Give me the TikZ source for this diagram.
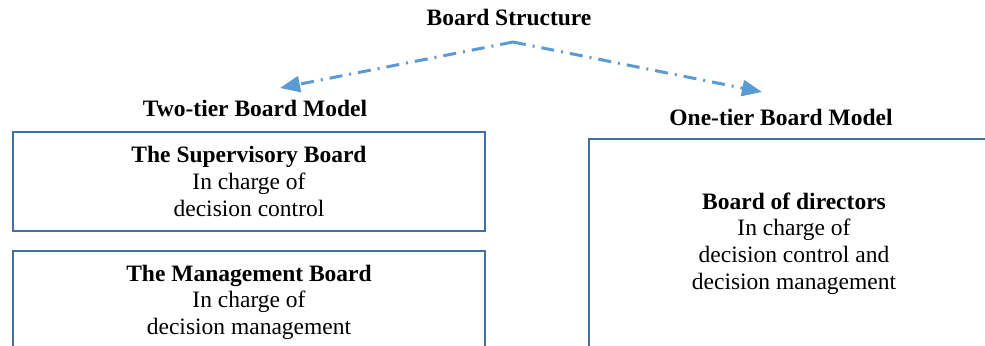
\documentclass[tikz,border=0pt]{standalone}
\usepackage{fontspec}
\setmainfont{Liberation Serif}
\usepackage{tikz}
\usetikzlibrary{arrows.meta,positioning,calc}
\definecolor{boxcolor}{RGB}{65,113,156}
\definecolor{linkcolor}{RGB}{91,155,213}

\begin{document}
\begin{tikzpicture}[x=0.5pt, y=-0.5pt,
    every node/.style={font=\fontsize{11.75}{13.3}\selectfont, inner sep=0pt},
    board/.style={draw=boxcolor, line width=1pt, align=center, anchor=north west},
    head/.style={font=\fontsize{11.75}{13.3}\selectfont\bfseries},
    link/.style={linkcolor, line width=1.5pt, dash pattern=on 6.5pt off 3.5pt on 1pt off 3.5pt,
                 -{Triangle[length=10pt, width=8pt]}}]
    % page frame
    \useasboundingbox (0,0) rectangle (985,345);
    \clip (0,0) rectangle (985,345);
    % Title
    \node[head] (title) at (509,17) {Board Structure};
    % Model headings
    \node[head] (twotier) at (255,108) {Two-tier Board Model};
    \node[head] (onetier) at (781,117) {One-tier Board Model};
    % Split arrows
    \coordinate (split) at (513,42);
    \coordinate (twotip) at (280,88);
    \coordinate (onetip) at (762,92);
    \draw[link] (split) -- (twotip);
    \draw[link] (split) -- (onetip);
    % Two-tier boards
    \node[board, minimum width=236pt, minimum height=49.5pt] (supervisory) at (12,131)
      {\textbf{The Supervisory Board}\\In charge of\\decision control};
    \node[board, minimum width=236pt, minimum height=51pt] (management) at (12,250)
      {\textbf{The Management Board}\\In charge of\\decision management};
    % One-tier board
    \node[board, minimum width=205pt, minimum height=104.5pt] (directors) at (588,138)
      {\textbf{Board of directors}\\In charge of\\decision control and\\decision management};
\end{tikzpicture}
\end{document}
